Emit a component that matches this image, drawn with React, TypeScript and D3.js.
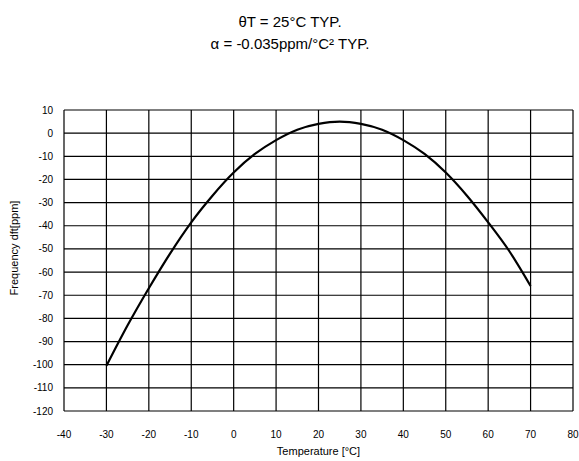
import React, { useEffect, useRef } from "react";
import * as d3 from "d3";

// temperature [°C] and frequency drift [ppm]
const temps = [-30, -25, -20, -15, -10, -5, 0, 5, 10, 15, 20, 25, 30, 35, 40, 45, 50, 55, 60, 65, 70];
const drift = [-100.5, -83, -67, -52, -38.5, -27, -17, -9, -3, 1.5, 4, 5, 4, 1.5, -3, -9, -17, -27, -38.5, -51, -66];

const xTicks = [-40, -30, -20, -10, 0, 10, 20, 30, 40, 50, 60, 70, 80];
const yTicks = [10, 0, -10, -20, -30, -40, -50, -60, -70, -80, -90, -100, -110, -120];

const titleLines = ["θT = 25°C TYP.", "α = -0.035ppm/°C² TYP."];

export default function App() {
  const ref = useRef<SVGSVGElement>(null);

  useEffect(() => {
    const svg = d3.select(ref.current);
    svg.selectAll("*").remove();

    const margin = { top: 110, right: 6, bottom: 50, left: 64 };
    const width = 579, height = 461;
    const font = "'Liberation Sans', Arial, sans-serif";

    const x = d3.scaleLinear().domain([-40, 80]).range([margin.left, width - margin.right]);
    const y = d3.scaleLinear().domain([-120, 10]).range([height - margin.bottom, margin.top]);

    // title
    svg.append("g")
      .selectAll("text")
      .data(titleLines)
      .join("text")
      .attr("x", 290)
      .attr("y", (d, i) => 27 + i * 22)
      .attr("text-anchor", "middle")
      .attr("font-family", font)
      .attr("font-size", 15)
      .text((d) => d);

    // grid
    const g = svg.append("g");
    g.selectAll("line.v")
      .data(xTicks)
      .join("line")
      .attr("x1", (d) => x(d)).attr("x2", (d) => x(d))
      .attr("y1", y(10)).attr("y2", y(-120))
      .attr("stroke", "#000").attr("stroke-width", 1.2);
    g.selectAll("line.h")
      .data(yTicks)
      .join("line")
      .attr("class", "h")
      .attr("x1", x(-40)).attr("x2", x(80))
      .attr("y1", (d) => y(d)).attr("y2", (d) => y(d))
      .attr("stroke", "#000").attr("stroke-width", 1.2);

    // tick labels
    svg.append("g")
      .selectAll("text")
      .data(xTicks)
      .join("text")
      .attr("x", (d) => x(d))
      .attr("y", y(-120) + 27)
      .attr("text-anchor", "middle")
      .attr("font-family", font)
      .attr("font-size", 10)
      .text((d) => d);
    svg.append("g")
      .selectAll("text")
      .data(yTicks)
      .join("text")
      .attr("x", x(-40) - 11)
      .attr("y", (d) => y(d) + 3.5)
      .attr("text-anchor", "end")
      .attr("font-family", font)
      .attr("font-size", 10)
      .text((d) => d);

    // axis titles
    svg.append("text")
      .attr("x", (x(-40) + x(80)) / 2)
      .attr("y", 455)
      .attr("text-anchor", "middle")
      .attr("font-family", font)
      .attr("font-size", 11)
      .text("Temperature [°C]");
    svg.append("text")
      .attr("transform", `translate(18, 248) rotate(-90)`)
      .attr("text-anchor", "middle")
      .attr("font-family", font)
      .attr("font-size", 11)
      .text("Frequency dft[ppm]");

    // curve
    const pts = temps.map((t, i) => [t, drift[i]] as [number, number]);
    const line = d3.line<[number, number]>()
      .x((d) => x(d[0]))
      .y((d) => y(d[1]))
      .curve(d3.curveMonotoneX);
    svg.append("path")
      .datum(pts)
      .attr("d", line)
      .attr("fill", "none")
      .attr("stroke", "#000")
      .attr("stroke-width", 2.2);
  }, []);

  return (
    <svg
      ref={ref}
      width={579}
      height={461}
      style={{ position: "absolute", left: 0, top: 0, background: "#fff" }}
    />
  );
}
